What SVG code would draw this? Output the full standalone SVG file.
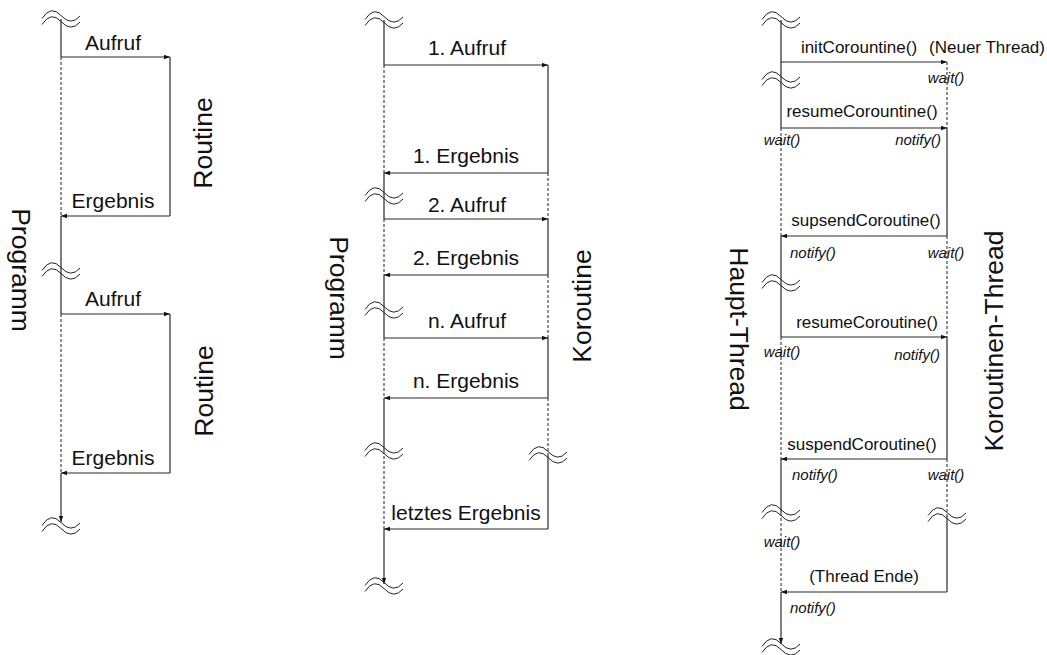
<svg xmlns="http://www.w3.org/2000/svg" width="1047" height="655" viewBox="0 0 1047 655">
<style>
.s{stroke:#3a3a3a;stroke-width:1.3;fill:none}
.d{stroke:#222;stroke-width:1;stroke-dasharray:3 2;fill:none}
.a{stroke:#2a2a2a;stroke-width:1.2;fill:none;marker-end:url(#ah)}
.t{font-family:"Liberation Sans",Arial,sans-serif;font-size:21px;fill:#111;text-anchor:middle}
.r{font-family:"Liberation Sans",Arial,sans-serif;font-size:17px;fill:#111;text-anchor:middle}
.i{font-family:"Liberation Sans",Arial,sans-serif;font-size:15px;font-style:italic;fill:#111}
.v{font-family:"Liberation Sans",Arial,sans-serif;font-size:26.5px;fill:#111;text-anchor:middle}
</style>
<defs>
<marker id="ah" markerUnits="userSpaceOnUse" markerWidth="7" markerHeight="5" refX="6" refY="2.2" orient="auto"><path d="M0,0 L6,2.2 L0,4.4 z" fill="#111"/></marker>
<g id="sq" stroke="#222" stroke-width="1" fill="none"><path d="M-19,-0.5 Q-10,-14.5 0,-3.5 T19,-3"/><path d="M-19,5.5 Q-10,-8.5 0,2.5 T19,3"/></g>
</defs>

<g id="connectors">
<!-- left diagram -->
<line class="s" x1="61" y1="19" x2="61" y2="57"/>
<line class="d" x1="61" y1="57" x2="61" y2="216"/>
<line class="s" x1="61" y1="216" x2="61" y2="314"/>
<line class="d" x1="61" y1="314" x2="61" y2="473"/>
<line class="a" x1="61" y1="473" x2="61" y2="522"/>
<line class="s" x1="170" y1="57" x2="170" y2="216"/>
<line class="s" x1="170" y1="314" x2="170" y2="473"/>
<line class="a" x1="61" y1="57" x2="170" y2="57"/>
<line class="a" x1="170" y1="216" x2="61" y2="216"/>
<line class="a" x1="61" y1="314" x2="170" y2="314"/>
<line class="a" x1="170" y1="473" x2="61" y2="473"/>
<!-- middle diagram -->
<line class="s" x1="384" y1="20" x2="384" y2="65"/>
<line class="d" x1="384" y1="65" x2="384" y2="173"/>
<line class="s" x1="384" y1="173" x2="384" y2="219"/>
<line class="d" x1="384" y1="219" x2="384" y2="275"/>
<line class="s" x1="384" y1="275" x2="384" y2="338"/>
<line class="d" x1="384" y1="338" x2="384" y2="398"/>
<line class="s" x1="384" y1="398" x2="384" y2="451"/>
<line class="d" x1="384" y1="451" x2="384" y2="529"/>
<line class="a" x1="384" y1="529" x2="384" y2="584"/>
<line class="s" x1="548" y1="65" x2="548" y2="173"/>
<line class="d" x1="548" y1="173" x2="548" y2="219"/>
<line class="s" x1="548" y1="219" x2="548" y2="275"/>
<line class="d" x1="548" y1="275" x2="548" y2="338"/>
<line class="s" x1="548" y1="338" x2="548" y2="398"/>
<line class="d" x1="548" y1="398" x2="548" y2="455"/>
<line class="s" x1="548" y1="455" x2="548" y2="529"/>
<line class="a" x1="384" y1="65" x2="548" y2="65"/>
<line class="a" x1="548" y1="173" x2="384" y2="173"/>
<line class="a" x1="384" y1="219" x2="548" y2="219"/>
<line class="a" x1="548" y1="275" x2="384" y2="275"/>
<line class="a" x1="384" y1="338" x2="548" y2="338"/>
<line class="a" x1="548" y1="398" x2="384" y2="398"/>
<line class="a" x1="548" y1="529" x2="384" y2="529"/>
<!-- right diagram -->
<line class="s" x1="781" y1="20" x2="781" y2="128"/>
<line class="d" x1="781" y1="128" x2="781" y2="236"/>
<line class="s" x1="781" y1="236" x2="781" y2="337"/>
<line class="d" x1="781" y1="337" x2="781" y2="459"/>
<line class="s" x1="781" y1="459" x2="781" y2="513"/>
<line class="d" x1="781" y1="513" x2="781" y2="592"/>
<line class="a" x1="781" y1="592" x2="781" y2="644"/>
<line class="d" x1="947" y1="62" x2="947" y2="128"/>
<line class="s" x1="947" y1="128" x2="947" y2="236"/>
<line class="d" x1="947" y1="236" x2="947" y2="337"/>
<line class="s" x1="947" y1="337" x2="947" y2="459"/>
<line class="d" x1="947" y1="459" x2="947" y2="516"/>
<line class="s" x1="947" y1="516" x2="947" y2="592"/>
<line class="a" x1="781" y1="62" x2="947" y2="62"/>
<line class="a" x1="781" y1="128" x2="947" y2="128"/>
<line class="a" x1="947" y1="236" x2="781" y2="236"/>
<line class="a" x1="781" y1="337" x2="947" y2="337"/>
<line class="a" x1="947" y1="459" x2="781" y2="459"/>
<line class="a" x1="947" y1="592" x2="781" y2="592"/>
<!-- breaks -->
<use href="#sq" x="61" y="19"/>
<use href="#sq" x="61" y="271"/>
<use href="#sq" x="61" y="526"/>
<use href="#sq" x="384" y="20"/>
<use href="#sq" x="384" y="196"/>
<use href="#sq" x="384" y="310"/>
<use href="#sq" x="384" y="451"/>
<use href="#sq" x="548" y="455"/>
<use href="#sq" x="384" y="586"/>
<use href="#sq" x="781" y="20"/>
<use href="#sq" x="781" y="80"/>
<use href="#sq" x="781" y="283"/>
<use href="#sq" x="781" y="513"/>
<use href="#sq" x="947" y="516"/>
<use href="#sq" x="781" y="647"/>
</g>

<g id="labels-left">
<text class="t" x="113" y="50">Aufruf</text>
<text class="t" x="113" y="208">Ergebnis</text>
<text class="t" x="113" y="306">Aufruf</text>
<text class="t" x="113" y="465">Ergebnis</text>
</g>
<g id="labels-middle">
<text class="t" x="467" y="55">1. Aufruf</text>
<text class="t" x="466" y="163">1. Ergebnis</text>
<text class="t" x="467" y="212">2. Aufruf</text>
<text class="t" x="466" y="265">2. Ergebnis</text>
<text class="t" x="467" y="328">n. Aufruf</text>
<text class="t" x="466" y="388">n. Ergebnis</text>
<text class="t" x="466" y="520">letztes Ergebnis</text>
</g>
<g id="labels-right">
<text class="r" x="859" y="53">initCorountine()</text>
<text class="r" x="987" y="53">(Neuer Thread)</text>
<text class="r" x="862" y="117">resumeCorountine()</text>
<text class="r" x="866" y="226">supsendCoroutine()</text>
<text class="r" x="867" y="328">resumeCoroutine()</text>
<text class="r" x="862" y="450">suspendCoroutine()</text>
<text class="r" x="864" y="582">(Thread Ende)</text>
<text class="i" x="946" y="83" text-anchor="middle">wait()</text>
<text class="i" x="782" y="145" text-anchor="middle">wait()</text>
<text class="i" x="941" y="145" text-anchor="end">notify()</text>
<text class="i" x="790" y="258">notify()</text>
<text class="i" x="946" y="258" text-anchor="middle">wait()</text>
<text class="i" x="782" y="357" text-anchor="middle">wait()</text>
<text class="i" x="940" y="360" text-anchor="end">notify()</text>
<text class="i" x="792" y="480">notify()</text>
<text class="i" x="946" y="480" text-anchor="middle">wait()</text>
<text class="i" x="782" y="547" text-anchor="middle">wait()</text>
<text class="i" x="790" y="613">notify()</text>
</g>

<g id="node-programm-left"><text class="v" transform="translate(21,270) rotate(90)" y="9.5">Programm</text></g>
<g id="node-routine-1"><text class="v" transform="translate(202,143) rotate(-90)" y="9.5">Routine</text></g>
<g id="node-routine-2"><text class="v" transform="translate(203,391) rotate(-90)" y="9.5">Routine</text></g>
<g id="node-programm-mid"><text class="v" transform="translate(339,298) rotate(90)" y="9.5">Programm</text></g>
<g id="node-koroutine"><text class="v" transform="translate(581,306) rotate(-90)" y="9.5">Koroutine</text></g>
<g id="node-haupt-thread"><text class="v" transform="translate(739,329) rotate(90)" y="9.5">Haupt-Thread</text></g>
<g id="node-koroutinen-thread"><text class="v" transform="translate(993,341) rotate(-90)" y="9.5">Koroutinen-Thread</text></g>
</svg>
